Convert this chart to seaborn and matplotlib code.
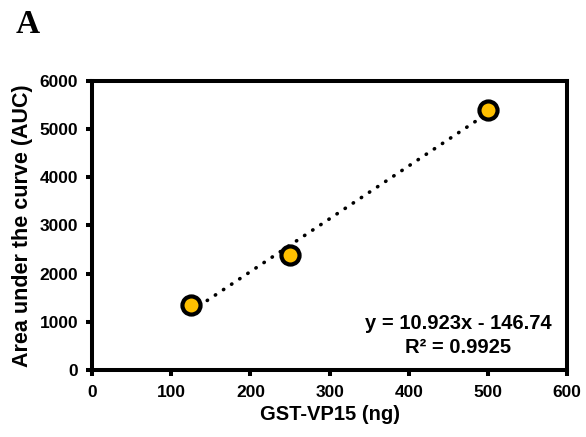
import matplotlib
matplotlib.use("Agg")
import matplotlib.pyplot as plt
import seaborn as sns
import numpy as np
import pandas as pd

amount_ng = [125, 250, 500]
auc = [1355, 2390, 5400]
x_ticks = [0, 100, 200, 300, 400, 500, 600]
y_ticks = [0, 1000, 2000, 3000, 4000, 5000, 6000]
equation = "y = 10.923x - 146.74"
r2_text = "R² = 0.9925"

sns.set_theme(style="white")
plt.rcParams['font.family'] = ['Liberation Sans', 'DejaVu Sans']
plt.rcParams['text.color'] = 'black'
plt.rcParams['axes.labelcolor'] = 'black'
plt.rcParams['xtick.color'] = 'black'
plt.rcParams['ytick.color'] = 'black'

df = pd.DataFrame({"x": amount_ng, "y": auc})

fig = plt.figure(figsize=(5.86, 4.37), dpi=100)
ax = fig.add_axes([0.157, 0.153, 0.811, 0.662])

slope, intercept = np.polyfit(amount_ng, auc, 1)
xs = np.array([min(amount_ng), max(amount_ng)])
ax.plot(xs, slope * xs + intercept, color="black", linewidth=2.6,
        linestyle=(0, (0.1, 2.6)), dash_capstyle="round", zorder=2)

sns.scatterplot(data=df, x="x", y="y", ax=ax, s=170, color="#FFC000",
                edgecolor="black", linewidth=3, zorder=3, legend=False)

ax.set_xlim(0, 600)
ax.set_ylim(0, 6000)
ax.set_xticks(x_ticks)
ax.set_yticks(y_ticks)
ax.set_xticklabels([str(t) for t in x_ticks], fontsize=12.5, fontweight="bold")
ax.set_yticklabels([str(t) for t in y_ticks], fontsize=12.5, fontweight="bold")
ax.set_xlabel("GST-VP15 (ng)", fontsize=14.5, fontweight="bold", labelpad=3)
ax.set_ylabel("Area under the curve (AUC)", fontsize=15.5, fontweight="bold", labelpad=5)

for sp in ax.spines.values():
    sp.set_visible(True)
    sp.set_color("black")
    sp.set_linewidth(2.9)

ax.tick_params(axis="both", which="both", direction="out", length=4, width=2.9,
               color="black", bottom=True, left=True)
ax.tick_params(axis="x", pad=7)
ax.tick_params(axis="y", pad=6)

ax.text(0.77, 0.12, equation + "\n" + r2_text, transform=ax.transAxes,
        ha="center", va="center", fontsize=14.5, fontweight="bold",
        multialignment="center", linespacing=1.35)

fig.text(0.048, 0.945, "A", family="Liberation Serif", fontsize=24, fontweight="bold",
         ha="center", va="center")

fig.savefig("out.png", dpi=100)
